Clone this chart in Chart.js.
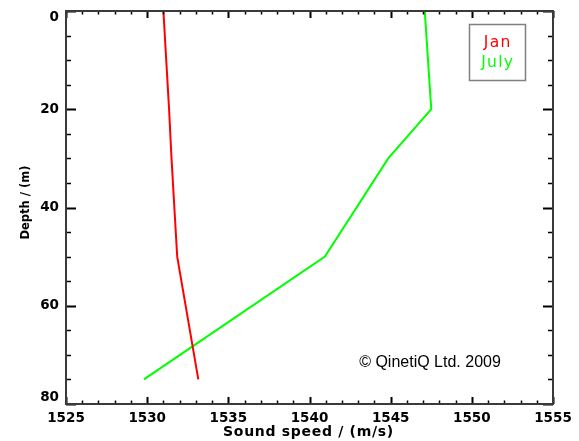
<!DOCTYPE html>
<html>
<head>
<meta charset="utf-8">
<script src="https://cdn.jsdelivr.net/npm/chart.js@4.4.1/dist/chart.umd.min.js"></script>
<style>
html,body{margin:0;padding:0;background:#fff;}
#wrap{width:579px;height:441px;position:relative;}
</style>
</head>
<body>
<div id="wrap"><canvas id="c" width="579" height="441"></canvas></div>
<script>
// Data
const depths = [0, 20, 30, 50, 75];
const janSpeed = [1531.0, 1531.35, 1531.5, 1531.85, 1533.15];
const julySpeed = [1547.1, 1547.5, 1544.85, 1540.95, 1529.8];
const seriesNames = ['Jan', 'July'];
const xMajorTicks = [1525, 1530, 1535, 1540, 1545, 1550, 1555];
const yMajorTicks = [0, 20, 40, 60, 80];
const xTitle = 'Sound speed / (m/s)';
const yTitle = 'Depth / (m)';
const credit = '\u00A9 QinetiQ Ltd. 2009';

const toPoints = (xs, ys) => xs.map((x, i) => ({x: x, y: ys[i]}));

const framePlugin = {
  id: 'frame',
  afterDraw(chart) {
    const {ctx, chartArea: a, scales} = chart;
    const xs = scales.x, ys = scales.y;
    ctx.save();
    ctx.strokeStyle = '#000';
    for (let v = 1525; v <= 1555; v += 1) {
      const px = Math.round(xs.getPixelForValue(v)) + 0.5;
      const major = xMajorTicks.includes(v);
      const L = major ? 7 : 3.5;
      ctx.lineWidth = major ? 2 : 1.5;
      ctx.beginPath();
      ctx.moveTo(px, a.bottom); ctx.lineTo(px, a.bottom - L);
      ctx.moveTo(px, a.top); ctx.lineTo(px, a.top + L);
      ctx.stroke();
    }
    for (let v = 0; v <= 80; v += 5) {
      const py = Math.round(ys.getPixelForValue(v)) + 0.5;
      const major = yMajorTicks.includes(v);
      const L = major ? 10 : 5;
      ctx.lineWidth = major ? 2 : 1.5;
      ctx.beginPath();
      ctx.moveTo(a.left, py); ctx.lineTo(a.left + L, py);
      ctx.moveTo(a.right, py); ctx.lineTo(a.right - L, py);
      ctx.stroke();
    }
    ctx.strokeStyle = '#3a3a3a';
    ctx.lineWidth = 2;
    ctx.strokeRect(a.left, a.top, a.right - a.left, a.bottom - a.top);

    // axis titles
    ctx.fillStyle = '#000';
    ctx.textAlign = 'center';
    ctx.textBaseline = 'middle';
    ctx.font = 'bold 14px "DejaVu Sans"';
    try { ctx.letterSpacing = '0.7px'; } catch (e) {}
    ctx.fillText(xTitle, (a.left + a.right) / 2 - 1, 432);
    try { ctx.letterSpacing = '0px'; } catch (e) {}
    ctx.save();
    ctx.translate(26, 202.5);
    ctx.rotate(-Math.PI / 2);
    ctx.font = 'bold 11.5px "DejaVu Sans"';
    ctx.fillText(yTitle, 0, 0);
    ctx.restore();

    // legend box
    ctx.strokeStyle = '#808080';
    ctx.lineWidth = 1.5;
    ctx.strokeRect(469.5, 24.5, 56, 56);
    ctx.font = '15.5px "DejaVu Sans"';
    ctx.textAlign = 'center';
    ctx.textBaseline = 'middle';
    try { ctx.letterSpacing = '1.3px'; } catch (e) {}
    chart.data.datasets.forEach((ds, i) => {
      ctx.fillStyle = ds.borderColor;
      ctx.fillText(ds.label, 497 + 0.7, 43 + i * 20);
    });
    try { ctx.letterSpacing = '0px'; } catch (e) {}

    // credit
    ctx.fillStyle = '#000';
    ctx.font = '16px "Liberation Sans"';
    ctx.textAlign = 'center';
    ctx.fillText(credit, 430, 363);
    ctx.restore();
  }
};

new Chart(document.getElementById('c'), {
  type: 'scatter',
  data: {
    datasets: [
      {label: seriesNames[0], data: toPoints(janSpeed, depths), showLine: true, borderColor: '#ff0000', backgroundColor: '#ff0000', borderWidth: 2, pointRadius: 0, tension: 0},
      {label: seriesNames[1], data: toPoints(julySpeed, depths), showLine: true, borderColor: '#00ff00', backgroundColor: '#00ff00', borderWidth: 2, pointRadius: 0, tension: 0}
    ]
  },
  options: {
    responsive: false,
    animation: false,
    events: [],
    layout: {padding: {top: 11, right: 26, left: 0, bottom: 0}},
    plugins: {legend: {display: false}, tooltip: {enabled: false}},
    scales: {
      x: {
        type: 'linear', min: 1525, max: 1555,
        border: {display: false},
        grid: {display: false, drawTicks: false},
        ticks: {stepSize: 5, padding: 6, color: '#000', font: {family: 'DejaVu Sans', size: 13.5, weight: 'bold'}, maxRotation: 0, callback: v => String(v)},
        title: {display: false},
        afterFit: s => { s.height = 37; s.paddingLeft = 0; s.paddingRight = 0; }
      },
      y: {
        type: 'linear', min: 0, max: 80, reverse: true,
        border: {display: false},
        grid: {display: false, drawTicks: false},
        ticks: {
          stepSize: 20, padding: 7, color: '#000',
          font: {family: 'DejaVu Sans', size: 13.5, weight: 'bold', lineHeight: 1.0},
          callback: v => v === 0 ? ['', String(v)] : (v === 80 ? [String(v), ''] : String(v))
        },
        title: {display: false},
        afterFit: s => { s.width = 66; s.paddingTop = 0; s.paddingBottom = 0; }
      }
    }
  },
  plugins: [framePlugin]
});
</script>
</body>
</html>
